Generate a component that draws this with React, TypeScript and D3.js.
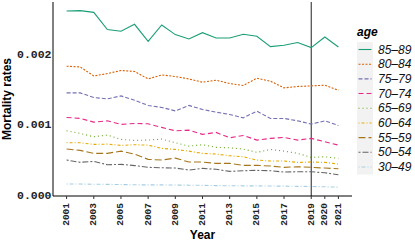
import { useEffect, useRef } from "react"
import * as d3 from "d3"

const years = d3.range(2001, 2022)
const tickYears = [2001, 2003, 2005, 2007, 2009, 2011, 2013, 2015, 2017, 2019, 2020, 2021]
const yTicks = [0, 0.001, 0.002]

const ageGroups = ["85–89", "80–84", "75–79", "70–74", "65–69", "60–64", "55–59", "50–54", "30–49"]
const colors = ["#1b9e77", "#d95f02", "#7570b3", "#e7298a", "#66a61e", "#e6ab02", "#a6761d", "#666666", "#a6cee3"]
const dashes = ["", "2,1.5", "4,2", "5,3", "1,3", "1,2,3,2", "7,3", "2,2,6,2", "1,2,4,2"]

// values in units of 1e-3
const r85 = [2.614, 2.62, 2.595, 2.351, 2.327, 2.426, 2.185, 2.416, 2.28, 2.218, 2.308, 2.232, 2.232, 2.284, 2.256, 2.11, 2.129, 2.167, 2.096, 2.246, 2.105]
const r80 = [1.832, 1.822, 1.694, 1.728, 1.771, 1.757, 1.652, 1.709, 1.686, 1.652, 1.605, 1.634, 1.587, 1.559, 1.662, 1.62, 1.525, 1.545, 1.553, 1.563, 1.492]
const r75 = [1.454, 1.454, 1.389, 1.369, 1.412, 1.351, 1.276, 1.248, 1.199, 1.276, 1.219, 1.181, 1.148, 1.1, 1.195, 1.092, 1.092, 1.058, 1.011, 1.058, 0.993]
const r70 = [1.106, 1.092, 1.04, 1.058, 1.007, 1.021, 1.016, 0.965, 0.917, 0.926, 0.866, 0.894, 0.818, 0.851, 0.785, 0.809, 0.823, 0.785, 0.809, 0.761, 0.714]
const r65 = [0.917, 0.88, 0.832, 0.856, 0.795, 0.781, 0.785, 0.799, 0.747, 0.7, 0.719, 0.682, 0.676, 0.658, 0.611, 0.653, 0.629, 0.597, 0.54, 0.549, 0.526]
const r60 = [0.747, 0.747, 0.724, 0.728, 0.71, 0.719, 0.714, 0.668, 0.653, 0.629, 0.597, 0.587, 0.563, 0.549, 0.502, 0.488, 0.488, 0.469, 0.474, 0.469, 0.446]
const r55 = [0.658, 0.639, 0.597, 0.597, 0.629, 0.587, 0.512, 0.502, 0.53, 0.474, 0.474, 0.455, 0.455, 0.427, 0.427, 0.417, 0.399, 0.407, 0.399, 0.389, 0.379]
const r50 = [0.502, 0.47, 0.484, 0.436, 0.441, 0.424, 0.399, 0.393, 0.389, 0.361, 0.385, 0.371, 0.342, 0.351, 0.356, 0.351, 0.332, 0.337, 0.337, 0.322, 0.294]
const r30 = [0.163, 0.162, 0.16, 0.158, 0.155, 0.152, 0.15, 0.15, 0.148, 0.146, 0.144, 0.14, 0.138, 0.137, 0.136, 0.134, 0.133, 0.13, 0.128, 0.124, 0.118]
const series = [r85, r80, r75, r70, r65, r60, r55, r50, r30]

const mono = "'Liberation Mono', 'DejaVu Sans Mono', monospace"
const sans = "'Liberation Sans', Arial, sans-serif"

export default function App() {
  const ref = useRef<SVGSVGElement>(null)

  useEffect(() => {
    if (!ref.current) return
    const svg = d3.select(ref.current)
    svg.selectAll("*").remove()

    const left = 53, right = 352, top = 2, bottom = 196
    const x = d3.scaleLinear().domain([2000, 2022]).range([left, right])
    const y = d3.scaleLinear().domain([0, 0.002742]).range([195.5, top])

    // reference line at 2019
    svg.append("line")
      .attr("x1", x(2019)).attr("x2", x(2019))
      .attr("y1", top).attr("y2", bottom)
      .attr("stroke", "#222").attr("stroke-width", 1)

    const line = d3.line<number>()
      .x((_, i) => x(years[i]))
      .y(d => y(d / 1000))

    series.forEach((s, i) => {
      svg.append("path")
        .attr("d", line(s) as string)
        .attr("fill", "none")
        .attr("stroke", colors[i])
        .attr("stroke-width", 1.1)
        .attr("stroke-dasharray", dashes[i] || null)
    })

    // axes
    svg.append("line").attr("x1", left).attr("x2", left).attr("y1", top).attr("y2", bottom)
      .attr("stroke", "#000").attr("stroke-width", 1)
    svg.append("line").attr("x1", left).attr("x2", right).attr("y1", bottom).attr("y2", bottom)
      .attr("stroke", "#000").attr("stroke-width", 1)

    yTicks.forEach(t => {
      svg.append("text")
        .attr("x", 51.5).attr("y", y(t))
        .attr("text-anchor", "end").attr("dominant-baseline", "central")
        .attr("font-family", mono).attr("font-weight", 700).attr("font-size", 11.5)
        .attr("fill", "#222")
        .text(d3.format(".3f")(t))
    })

    tickYears.forEach(t => {
      svg.append("line").attr("x1", x(t)).attr("x2", x(t)).attr("y1", bottom).attr("y2", bottom + 3)
        .attr("stroke", "#333")
      svg.append("text")
        .attr("transform", `translate(${x(t)},${bottom + 7}) rotate(-90)`)
        .attr("text-anchor", "end").attr("dominant-baseline", "central")
        .attr("font-family", mono).attr("font-weight", 700).attr("font-size", 9.5)
        .attr("fill", "#222")
        .text(String(t))
    })

    svg.append("text")
      .attr("transform", `translate(7,${(top + bottom) / 2}) rotate(-90)`)
      .attr("text-anchor", "middle").attr("dominant-baseline", "central")
      .attr("font-family", sans).attr("font-weight", 700).attr("font-size", 12)
      .text("Mortality rates")

    svg.append("text")
      .attr("x", (left + right) / 2).attr("y", 239)
      .attr("text-anchor", "middle")
      .attr("font-family", sans).attr("font-weight", 700).attr("font-size", 12)
      .text("Year")

    // legend
    const lg = svg.append("g")
    lg.append("text")
      .attr("x", 357).attr("y", 36)
      .attr("font-family", sans).attr("font-weight", 700).attr("font-style", "italic").attr("font-size", 12)
      .text("age")
    const rowY = d3.scaleLinear().domain([0, 8]).range([49.5, 167])
    lg.append("rect")
      .attr("x", 357).attr("y", rowY(0) - 7.5).attr("width", 16).attr("height", rowY(8) - rowY(0) + 15)
      .attr("fill", "#f2f2f2")
    ageGroups.forEach((g, i) => {
      lg.append("line")
        .attr("x1", 358.5).attr("x2", 371.5).attr("y1", rowY(i)).attr("y2", rowY(i))
        .attr("stroke", colors[i]).attr("stroke-width", 1.1)
        .attr("stroke-dasharray", dashes[i] || null)
      lg.append("text")
        .attr("x", 378).attr("y", rowY(i))
        .attr("dominant-baseline", "central")
        .attr("font-family", sans).attr("font-style", "italic").attr("font-size", 12)
        .attr("fill", "#111")
        .text(g)
    })
  }, [])

  return (
    <svg ref={ref} width={415} height={244}
      style={{ position: "absolute", left: 0, top: 0, background: "#fff" }} />
  )
}
